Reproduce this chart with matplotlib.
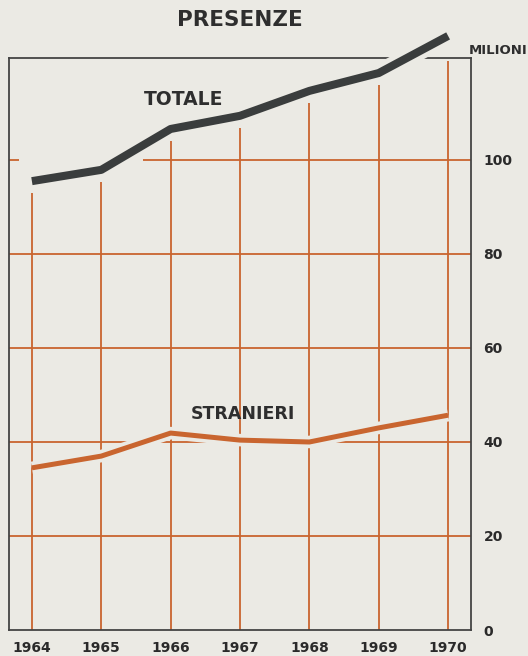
import matplotlib
matplotlib.use("Agg")
import matplotlib.pyplot as plt
import matplotlib.patheffects as pe

years = [1964, 1965, 1966, 1967, 1968, 1969, 1970]
totale = [95.5, 97.9, 106.6, 109.4, 114.7, 118.5, 126.4]
stranieri = [34.5, 37.0, 41.9, 40.4, 40.0, 43.0, 45.7]
yticks = [0, 20, 40, 60, 80, 100]

BG = "#ebeae4"
ORANGE = "#c9652f"
DARK = "#3a3d3d"
FRAME = "#444444"

fig = plt.figure(figsize=(5.28, 6.56), dpi=100, facecolor=BG)
ax = fig.add_axes([9/528, 26/656, 462/528, 572/656], facecolor=BG)
ax.set_xlim(1963.67, 1970.33)
ax.set_ylim(0, 121.7)

# horizontal grid lines
for v in yticks[1:]:
    if v == 100:
        ax.hlines(v, 1963.67, 1963.82, color=ORANGE, lw=1.3, zorder=1)
        ax.hlines(v, 1965.6, 1970.33, color=ORANGE, lw=1.3, zorder=1)
    else:
        ax.hlines(v, 1963.67, 1970.33, color=ORANGE, lw=1.3, zorder=1)

# vertical grid lines (stop below the TOTALE line)
for x, t in zip(years, totale):
    ax.vlines(x, 0, min(t - 2.6, 121.0), color=ORANGE, lw=1.3, zorder=1)

gap = [pe.Stroke(linewidth=13, foreground=BG), pe.Normal()]
ax.plot(years, totale, color=DARK, lw=5.8, solid_capstyle="butt",
        zorder=6, clip_on=False, path_effects=gap)
ax.plot(years, stranieri, color=ORANGE, lw=3.6, solid_capstyle="butt",
        zorder=5, path_effects=[pe.Stroke(linewidth=9, foreground=BG), pe.Normal()])

for s in ax.spines.values():
    s.set_color(FRAME)
    s.set_linewidth(1.3)
    s.set_zorder(3)

ax.yaxis.tick_right()
ax.set_yticks(yticks)
ax.set_yticklabels([str(v) for v in yticks])
ax.set_xticks(years)
ax.set_xticklabels([str(y) for y in years])
ax.tick_params(axis="y", length=0, pad=9, labelsize=10, labelcolor="#2a2a2a")
ax.tick_params(axis="x", length=0, pad=8, labelsize=10, labelcolor="#2a2a2a")
for lab in ax.get_xticklabels() + ax.get_yticklabels():
    lab.set_fontweight("bold")

ax.text(1966.18, 112.8, "TOTALE", ha="center", va="center", fontsize=13.5,
        fontweight="bold", color="#2e2e2e", zorder=7)
ax.text(1967.04, 46.0, "STRANIERI", ha="center", va="center", fontsize=12.5,
        fontweight="bold", color="#2e2e2e", zorder=7)

fig.text(240/528, 1 - 20/656, "PRESENZE", ha="center", va="center", fontsize=15.5,
         fontweight="bold", color="#2e2e2e")
fig.text(1.0, 1 - 50/656, "MILIONI", ha="right", va="center", fontsize=9.5,
         fontweight="bold", color="#2e2e2e")

fig.savefig("out.png", dpi=100, facecolor=BG)
